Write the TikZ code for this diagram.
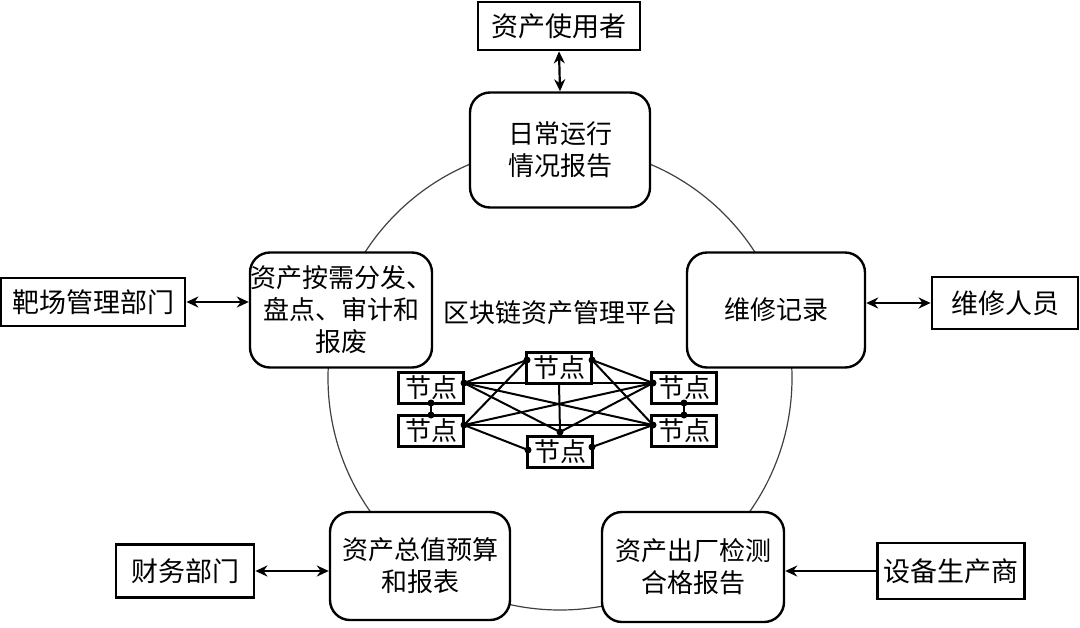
\documentclass[tikz,border=0pt]{standalone}
\usepackage{fontspec}
\setmainfont{Noto Sans CJK SC}
\usetikzlibrary{arrows.meta}
\tikzset{
  rbox/.style={draw, line width=1.2pt, rounded corners=10pt, fill=white, align=center, inner sep=0pt, font=\fontsize{13}{16}\selectfont},
  obox/.style={draw, line width=1.4pt, fill=white, align=center, inner sep=0pt, font=\fontsize{13.5}{16}\selectfont},
  jd/.style={draw, line width=1.2pt, fill=white, inner sep=0pt, minimum width=32.5pt, minimum height=15.5pt, font=\fontsize{13}{15}\selectfont},
  link/.style={line width=1pt},
  dbl/.style={line width=1.1pt, {Stealth[length=6pt,width=5.5pt]}-{Stealth[length=6pt,width=5.5pt]}},
  sgl/.style={line width=1.1pt, -{Stealth[length=6pt,width=5.5pt]}},
  dot/.style={circle, fill=black, inner sep=0pt, minimum size=3.5pt}
}
\begin{document}
\begin{tikzpicture}[x=0.5pt,y=-0.5pt]
\useasboundingbox (0,0) rectangle (1080,627);
% ring
\draw[line width=0.6pt, black!75] (560,378) circle [radius=116pt];
% main rounded boxes
\node[rbox, minimum width=90pt, minimum height=57.5pt] (top) at (560,150) {日常运行\\情况报告};
\node[rbox, minimum width=91pt, minimum height=57.5pt] (left) at (341,310) {资产按需分发、\\盘点、审计和\\报废};
\node[rbox, minimum width=89pt, minimum height=57.5pt] (right) at (776,310) {维修记录};
\node[rbox, minimum width=90pt, minimum height=54pt] (bl) at (420,566) {资产总值预算\\和报表};
\node[rbox, minimum width=91pt, minimum height=55pt] (br) at (693,567) {资产出厂检测\\合格报告};
% outer boxes
\node[obox, minimum width=81pt, minimum height=24pt] (user) at (559,26) {资产使用者};
\node[obox, minimum width=92pt, minimum height=24pt] (range) at (93,302) {靶场管理部门};
\node[obox, minimum width=73pt, minimum height=26pt] (repair) at (1005,303) {维修人员};
\node[obox, minimum width=69pt, minimum height=26.5pt] (fin) at (185,571) {财务部门};
\node[obox, minimum width=73.5pt, minimum height=28pt] (maker) at (951,571) {设备生产商};
% platform label
\node[font=\fontsize{13}{16}\selectfont, inner sep=0pt] (plat) at (560,313) {区块链资产管理平台};
% arrows
\draw[dbl] (user.south) -- (top.north);
\draw[dbl] (range.east) -- (left.west |- range.east);
\draw[dbl] (right.east |- repair.west) -- (repair.west);
\draw[dbl] (fin.east) -- (bl.west |- fin.east);
\draw[sgl] (maker.west) -- (br.east |- maker.west);
% network nodes
\node[jd] (nT) at (559,368) {节点};
\node[jd] (nB) at (560,452) {节点};
\node[jd] (nLU) at (431,388) {节点};
\node[jd] (nLL) at (431,431) {节点};
\node[jd] (nRU) at (684,388) {节点};
\node[jd] (nRL) at (684,431) {节点};
% connection points
\coordinate (pLU) at (464,383);
\coordinate (pLL) at (464,425);
\coordinate (pRU) at (653,383);
\coordinate (pRL) at (653,425);
\coordinate (pTl) at (527,360);
\coordinate (pTr) at (592,360);
\coordinate (pTb) at (559,383);
\coordinate (pBt) at (560,432);
\coordinate (pBl) at (528,450);
\coordinate (pBr) at (592,447);
\coordinate (pLUb) at (431,403);
\coordinate (pLLt) at (431,415);
\coordinate (pRUb) at (684,403);
\coordinate (pRLt) at (684,415);
\draw[link] (pLU) -- (pRU);
\draw[link] (pLL) -- (pRL);
\draw[link] (pLU) -- (pRL);
\draw[link] (pLL) -- (pRU);
\draw[link] (pTl) -- (pLU);
\draw[link] (pTl) -- (pLL);
\draw[link] (pTr) -- (pRU);
\draw[link] (pTr) -- (pRL);
\draw[link] (pTb) -- (pBt);
\draw[link] (pLU) -- (pBt);
\draw[link] (pRU) -- (pBt);
\draw[link] (pLL) -- (pBl);
\draw[link] (pRL) -- (pBr);
\draw[link] (pLUb) -- (pLLt);
\draw[link] (pRUb) -- (pRLt);
\foreach \p in {pLU,pLL,pRU,pRL,pTl,pTr,pBt,pBl,pBr,pLUb,pLLt,pRUb,pRLt}
  \node[dot] at (\p) {};
\end{tikzpicture}
\end{document}
